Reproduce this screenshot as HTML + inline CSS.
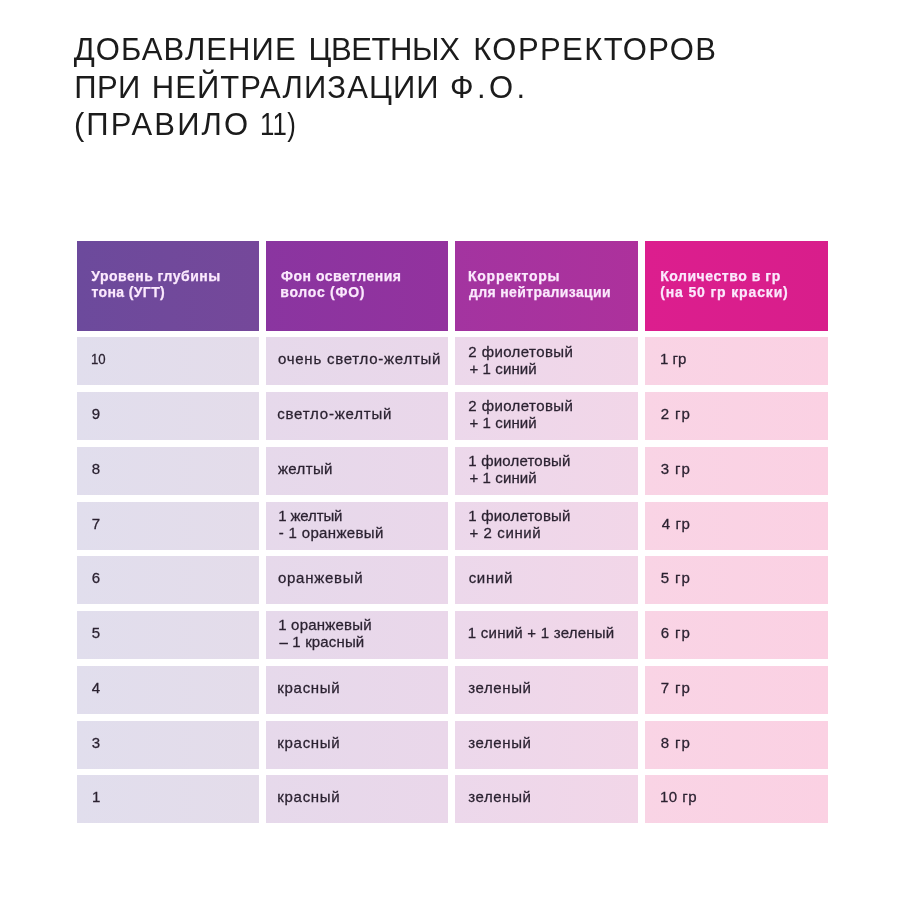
<!DOCTYPE html>
<html lang="ru"><head><meta charset="utf-8"><title>Добавление цветных корректоров</title>
<style>
html,body{margin:0;padding:0;background:#fff;}
body{width:900px;height:900px;position:relative;overflow:hidden;font-family:"Liberation Sans",sans-serif;}
h1{position:absolute;left:0;top:0;margin:0;font-weight:400;font-size:31px;line-height:36px;color:#1b1b1b;}
h1 span,.c span{position:absolute;white-space:nowrap;display:block;}
.c{position:absolute;}
.h{top:241px;height:90px;color:#fbe9fd;font-weight:700;font-size:14px;line-height:16px;-webkit-text-stroke:.25px #fbe9fd;}
.b{height:48px;color:#2b2231;font-size:15px;line-height:16px;-webkit-text-stroke:.27px #2b2231;}
</style></head><body>
<h1><span style="left:73.70px;top:32.30px;letter-spacing:1.089px">ДОБАВЛЕНИЕ</span> <span style="left:308.50px;top:32.30px;letter-spacing:-0.400px">ЦВЕТНЫХ</span> <span style="left:473.20px;top:32.30px;letter-spacing:1.440px">КОРРЕКТОРОВ</span><br><span style="left:74.30px;top:69.60px;letter-spacing:0.400px">ПРИ</span> <span style="left:151.70px;top:69.60px;letter-spacing:1.100px">НЕЙТРАЛИЗАЦИИ</span> <span style="left:450.10px;top:69.60px;letter-spacing:3.400px">Ф.О.</span><br><span style="left:73.90px;top:107.00px;letter-spacing:2.143px">(ПРАВИЛО</span> <span style="left:259.66px;top:107.00px;letter-spacing:0.200px;transform:scaleX(0.8331);transform-origin:0 0">11)</span></h1>
<div class="c h" style="left:76.6px;width:182.8px;background:linear-gradient(90deg,#6c4a9c,#75489a)"><span style="left:14.64px;top:26.50px;letter-spacing:0.494px">Уровень глубины</span><span style="left:14.80px;top:43.00px;letter-spacing:0.387px">тона (УГТ)</span></div>
<div class="c h" style="left:266px;width:182.4px;background:linear-gradient(90deg,#8a35a0,#93329e)"><span style="left:15.12px;top:26.50px;letter-spacing:0.491px">Фон осветления</span><span style="left:14.22px;top:43.00px;letter-spacing:0.742px">волос (ФО)</span></div>
<div class="c h" style="left:455.4px;width:182.4px;background:linear-gradient(90deg,#a334a0,#ad319c)"><span style="left:12.66px;top:26.50px;letter-spacing:0.738px">Корректоры</span><span style="left:13.56px;top:43.00px;letter-spacing:0.373px">для нейтрализации</span></div>
<div class="c h" style="left:645px;width:183px;background:linear-gradient(90deg,#dc1e8e,#d81e8b)"><span style="left:15.18px;top:26.50px;letter-spacing:0.550px">Количество в гр</span><span style="left:15.18px;top:43.00px;letter-spacing:0.855px">(на 50 гр краски)</span></div>
<div class="c b" style="left:76.6px;top:337.25px;width:182.8px;background:linear-gradient(90deg,#e1deed,#e4dcea)"><span style="left:14.08px;top:14.20px;letter-spacing:0.000px;transform:scaleX(0.8796);transform-origin:0 0">10</span></div>
<div class="c b" style="left:266px;top:337.25px;width:182.4px;background:linear-gradient(90deg,#e6d9eb,#ead7ea)"><span style="left:11.96px;top:14.20px;letter-spacing:0.748px">очень светло-желтый</span></div>
<div class="c b" style="left:455.4px;top:337.25px;width:182.4px;background:linear-gradient(90deg,#ecd8eb,#f2d6e8)"><span style="left:12.92px;top:6.30px;letter-spacing:0.417px">2 фиолетовый</span><span style="left:14.10px;top:23.40px;letter-spacing:0.098px">+ 1 синий</span></div>
<div class="c b" style="left:645px;top:337.25px;width:183px;background:linear-gradient(90deg,#f9d4e5,#fbd1e3)"><span style="left:15.06px;top:14.20px;letter-spacing:-0.017px">1 гр</span></div>
<div class="c b" style="left:76.6px;top:392.00px;width:182.8px;background:linear-gradient(90deg,#e1deed,#e4dcea)"><span style="left:15.08px;top:14.20px;letter-spacing:0.250px">9</span></div>
<div class="c b" style="left:266px;top:392.00px;width:182.4px;background:linear-gradient(90deg,#e6d9eb,#ead7ea)"><span style="left:11.16px;top:14.20px;letter-spacing:0.807px">светло-желтый</span></div>
<div class="c b" style="left:455.4px;top:392.00px;width:182.4px;background:linear-gradient(90deg,#ecd8eb,#f2d6e8)"><span style="left:12.92px;top:6.30px;letter-spacing:0.417px">2 фиолетовый</span><span style="left:14.10px;top:23.40px;letter-spacing:0.098px">+ 1 синий</span></div>
<div class="c b" style="left:645px;top:392.00px;width:183px;background:linear-gradient(90deg,#f9d4e5,#fbd1e3)"><span style="left:15.84px;top:14.20px;letter-spacing:0.883px">2 гр</span></div>
<div class="c b" style="left:76.6px;top:446.75px;width:182.8px;background:linear-gradient(90deg,#e1deed,#e4dcea)"><span style="left:15.08px;top:14.20px;letter-spacing:0.250px">8</span></div>
<div class="c b" style="left:266px;top:446.75px;width:182.4px;background:linear-gradient(90deg,#e6d9eb,#ead7ea)"><span style="left:11.96px;top:14.20px;letter-spacing:0.366px">желтый</span></div>
<div class="c b" style="left:455.4px;top:446.75px;width:182.4px;background:linear-gradient(90deg,#ecd8eb,#f2d6e8)"><span style="left:12.92px;top:6.30px;letter-spacing:0.192px">1 фиолетовый</span><span style="left:14.10px;top:23.40px;letter-spacing:0.098px">+ 1 синий</span></div>
<div class="c b" style="left:645px;top:446.75px;width:183px;background:linear-gradient(90deg,#f9d4e5,#fbd1e3)"><span style="left:15.84px;top:14.20px;letter-spacing:0.883px">3 гр</span></div>
<div class="c b" style="left:76.6px;top:501.50px;width:182.8px;background:linear-gradient(90deg,#e1deed,#e4dcea)"><span style="left:15.08px;top:14.20px;letter-spacing:0.250px">7</span></div>
<div class="c b" style="left:266px;top:501.50px;width:182.4px;background:linear-gradient(90deg,#e6d9eb,#ead7ea)"><span style="left:12.18px;top:6.30px;letter-spacing:-0.127px">1 желтый</span><span style="left:12.68px;top:23.40px;letter-spacing:0.342px">- 1 оранжевый</span></div>
<div class="c b" style="left:455.4px;top:501.50px;width:182.4px;background:linear-gradient(90deg,#ecd8eb,#f2d6e8)"><span style="left:12.92px;top:6.30px;letter-spacing:0.192px">1 фиолетовый</span><span style="left:14.10px;top:23.40px;letter-spacing:0.600px">+ 2 синий</span></div>
<div class="c b" style="left:645px;top:501.50px;width:183px;background:linear-gradient(90deg,#f9d4e5,#fbd1e3)"><span style="left:16.74px;top:14.20px;letter-spacing:0.583px">4 гр</span></div>
<div class="c b" style="left:76.6px;top:556.25px;width:182.8px;background:linear-gradient(90deg,#e1deed,#e4dcea)"><span style="left:15.08px;top:14.20px;letter-spacing:0.250px">6</span></div>
<div class="c b" style="left:266px;top:556.25px;width:182.4px;background:linear-gradient(90deg,#e6d9eb,#ead7ea)"><span style="left:11.96px;top:14.20px;letter-spacing:0.725px">оранжевый</span></div>
<div class="c b" style="left:455.4px;top:556.25px;width:182.4px;background:linear-gradient(90deg,#ecd8eb,#f2d6e8)"><span style="left:13.28px;top:14.20px;letter-spacing:0.715px">синий</span></div>
<div class="c b" style="left:645px;top:556.25px;width:183px;background:linear-gradient(90deg,#f9d4e5,#fbd1e3)"><span style="left:15.84px;top:14.20px;letter-spacing:0.883px">5 гр</span></div>
<div class="c b" style="left:76.6px;top:611.00px;width:182.8px;background:linear-gradient(90deg,#e1deed,#e4dcea)"><span style="left:15.08px;top:14.20px;letter-spacing:0.250px">5</span></div>
<div class="c b" style="left:266px;top:611.00px;width:182.4px;background:linear-gradient(90deg,#e6d9eb,#ead7ea)"><span style="left:12.18px;top:6.30px;letter-spacing:0.204px">1 оранжевый</span><span style="left:13.58px;top:23.40px;letter-spacing:0.142px">– 1 красный</span></div>
<div class="c b" style="left:455.4px;top:611.00px;width:182.4px;background:linear-gradient(90deg,#ecd8eb,#f2d6e8)"><span style="left:12.48px;top:14.20px;letter-spacing:0.234px">1 синий + 1 зеленый</span></div>
<div class="c b" style="left:645px;top:611.00px;width:183px;background:linear-gradient(90deg,#f9d4e5,#fbd1e3)"><span style="left:15.84px;top:14.20px;letter-spacing:0.883px">6 гр</span></div>
<div class="c b" style="left:76.6px;top:665.75px;width:182.8px;background:linear-gradient(90deg,#e1deed,#e4dcea)"><span style="left:15.18px;top:14.20px;letter-spacing:0.250px">4</span></div>
<div class="c b" style="left:266px;top:665.75px;width:182.4px;background:linear-gradient(90deg,#e6d9eb,#ead7ea)"><span style="left:11.32px;top:14.20px;letter-spacing:0.700px">красный</span></div>
<div class="c b" style="left:455.4px;top:665.75px;width:182.4px;background:linear-gradient(90deg,#ecd8eb,#f2d6e8)"><span style="left:12.80px;top:14.20px;letter-spacing:0.613px">зеленый</span></div>
<div class="c b" style="left:645px;top:665.75px;width:183px;background:linear-gradient(90deg,#f9d4e5,#fbd1e3)"><span style="left:15.84px;top:14.20px;letter-spacing:0.883px">7 гр</span></div>
<div class="c b" style="left:76.6px;top:720.50px;width:182.8px;background:linear-gradient(90deg,#e1deed,#e4dcea)"><span style="left:15.08px;top:14.20px;letter-spacing:0.250px">3</span></div>
<div class="c b" style="left:266px;top:720.50px;width:182.4px;background:linear-gradient(90deg,#e6d9eb,#ead7ea)"><span style="left:11.32px;top:14.20px;letter-spacing:0.700px">красный</span></div>
<div class="c b" style="left:455.4px;top:720.50px;width:182.4px;background:linear-gradient(90deg,#ecd8eb,#f2d6e8)"><span style="left:12.80px;top:14.20px;letter-spacing:0.613px">зеленый</span></div>
<div class="c b" style="left:645px;top:720.50px;width:183px;background:linear-gradient(90deg,#f9d4e5,#fbd1e3)"><span style="left:15.84px;top:14.20px;letter-spacing:0.883px">8 гр</span></div>
<div class="c b" style="left:76.6px;top:775.25px;width:182.8px;background:linear-gradient(90deg,#e1deed,#e4dcea)"><span style="left:15.40px;top:14.20px;letter-spacing:0.250px">1</span></div>
<div class="c b" style="left:266px;top:775.25px;width:182.4px;background:linear-gradient(90deg,#e6d9eb,#ead7ea)"><span style="left:11.32px;top:14.20px;letter-spacing:0.700px">красный</span></div>
<div class="c b" style="left:455.4px;top:775.25px;width:182.4px;background:linear-gradient(90deg,#ecd8eb,#f2d6e8)"><span style="left:12.80px;top:14.20px;letter-spacing:0.613px">зеленый</span></div>
<div class="c b" style="left:645px;top:775.25px;width:183px;background:linear-gradient(90deg,#f9d4e5,#fbd1e3)"><span style="left:15.00px;top:14.20px;letter-spacing:0.475px">10 гр</span></div>
</body></html>
